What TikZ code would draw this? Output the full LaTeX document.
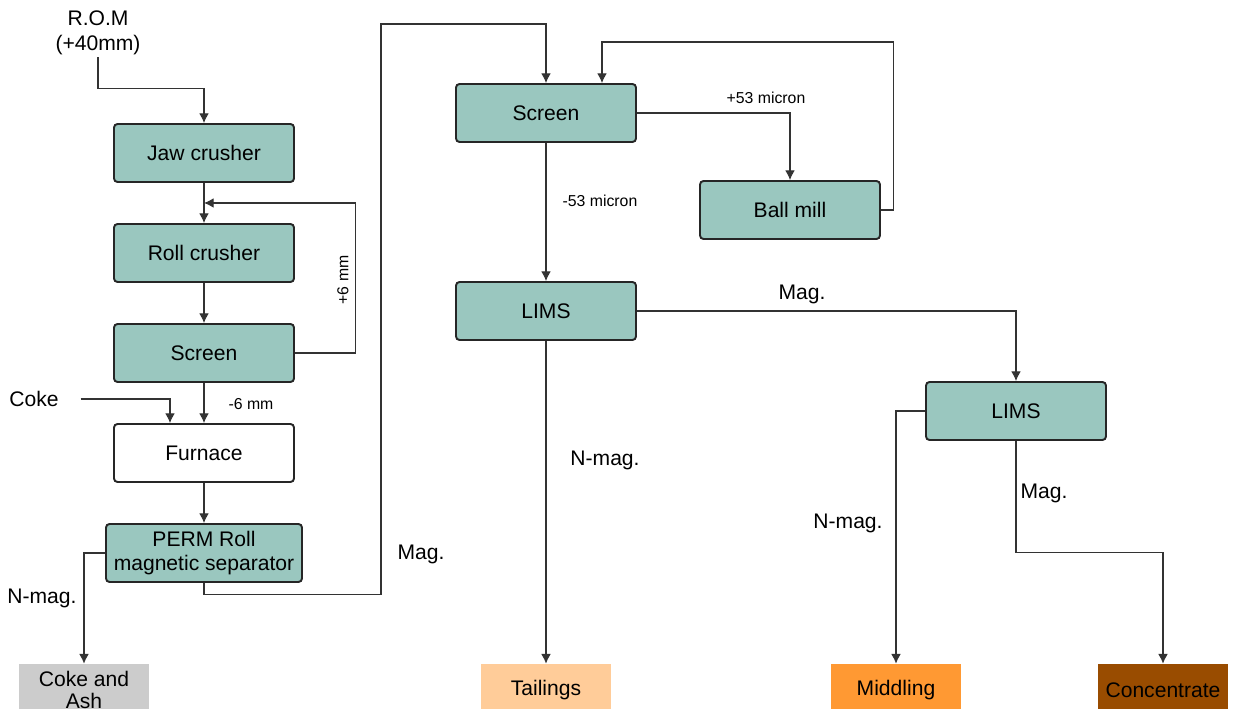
\documentclass[tikz,border=0pt]{standalone}
\usepackage{fontspec}
\setmainfont{Liberation Sans}
\usepackage{tikz}
\usetikzlibrary{arrows.meta,calc,positioning}
\definecolor{unitfill}{HTML}{9AC7BF}
\definecolor{ashfill}{HTML}{CCCCCC}
\definecolor{tailfill}{HTML}{FFCC99}
\definecolor{middfill}{HTML}{FF9933}
\definecolor{concfill}{HTML}{994C00}
\newcommand{\bigtxt}{\fontsize{12}{14}\selectfont}
\newcommand{\smalltxt}{\fontsize{9}{11}\selectfont}
\tikzset{
  unit/.style={draw=black!85,line width=1.1pt,rounded corners=2pt,fill=unitfill,
    minimum width=3.6cm,minimum height=1.16cm,align=center,font=\bigtxt},
  product/.style={minimum width=2.62cm,minimum height=1.04cm,align=center,
    font=\fontsize{12}{12.5}\selectfont},
  flow/.style={->,draw=black!80,line width=0.6pt},
  tag/.style={font=\bigtxt,inner sep=1pt},
  smalltag/.style={font=\smalltxt,inner sep=1pt}
}
\begin{document}
\begin{tikzpicture}[x=0.02cm,y=-0.02cm,>={Latex[length=5.5pt,width=5.5pt]}]
  \useasboundingbox (0,0) rectangle (1235,709);
  % 破砕・選別
  \node[tag,align=center,font=\fontsize{12}{14.5}\selectfont] (rom) at (98,33) {R.O.M\\(+40mm)};
  \node[unit] (jaw) at (204,153) {Jaw crusher};
  \node[unit] (roll) at (204,253) {Roll crusher};
  \node[unit] (scr1) at (204,353) {Screen};
  \node[unit,fill=white] (furn) at (204,453) {Furnace};
  \node[unit,minimum width=3.92cm,font=\fontsize{12}{14}\selectfont] (perm) at (204,553) {PERM Roll\\magnetic separator};
  \node[tag] (coke) at (34,399) {Coke};
  % 磨鉱・LIMS
  \node[unit] (scr2) at (546,113) {Screen};
  \node[unit] (ball) at (790,210) {Ball mill};
  \node[unit] (lims1) at (546,311) {LIMS};
  \node[unit] (lims2) at (1016,411) {LIMS};
  % 製品
  \node[product,fill=ashfill] (ash) at (84,690) {Coke and\\Ash};
  \node[product,fill=tailfill] (tail) at (546,690) {Tailings};
  \node[product,fill=middfill] (midd) at (896,690) {Middling};
  \node[product,fill=concfill] (conc) at (1163,690) {Concentrate};
  % 流れ
  \draw[flow] (rom.south) -- ++(0,31) -| (jaw.north);
  \draw[flow] (jaw) -- (roll);
  \draw[flow] (roll) -- (scr1);
  \draw[flow] (scr1.east) -- ++(61,0) |- ($(jaw.south)!0.5!(roll.north)$);
  \draw[flow] (scr1) -- (furn);
  \draw[flow] ($(coke.east)+(20,0)$) -| ($(furn.north)+(-34,0)$);
  \draw[flow] (furn) -- (perm);
  \draw[flow] (perm.west) -| (ash.north);
  \draw[flow] (perm.south) -- ++(0,12) -| (381,24) -| (scr2.north);
  \draw[flow] (scr2.east) -| (ball.north);
  \draw[flow] (ball.east) -- ++(13,0) |- (602,42) -| ($(scr2.north)+(56,0)$);
  \draw[flow] (scr2) -- (lims1);
  \draw[flow] (lims1.east) -| (lims2.north);
  \draw[flow] (lims1) -- (tail);
  \draw[flow] (lims2.west) -| (midd.north);
  \draw[flow] (lims2.south) -- ++(0,112) -| (conc.north);
  % ラベル
  \node[smalltag,rotate=90] (p6) at (343,280) {+6 mm};
  \node[smalltag] (m6) at (251,404) {-6 mm};
  \node[tag] (nm1) at (42,598) {N-mag.};
  \node[tag] (mg1) at (421,554) {Mag.};
  \node[smalltag] (p53) at (766,98) {+53 micron};
  \node[smalltag] (m53) at (600,201) {-53 micron};
  \node[tag] (mg2) at (802,294) {Mag.};
  \node[tag] (nm2) at (605,460) {N-mag.};
  \node[tag] (nm3) at (848,523) {N-mag.};
  \node[tag] (mg3) at (1044,493) {Mag.};
\end{tikzpicture}
\end{document}
